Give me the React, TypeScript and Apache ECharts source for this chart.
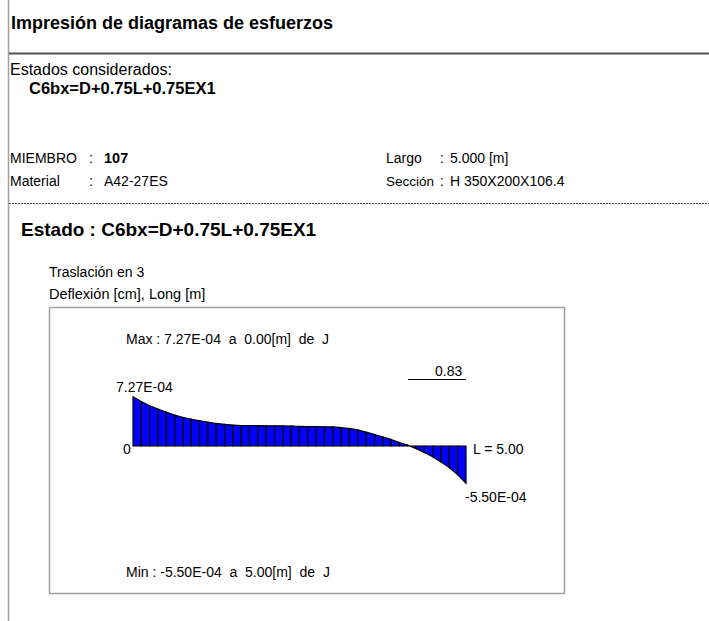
import React, { useEffect, useRef } from "react";
import * as echarts from "echarts";

// Stations along the member [m] (40 segments of 0.125 m)
const stations: number[] = [
  0, 0.125, 0.25, 0.375, 0.5, 0.625, 0.75, 0.875, 1.0, 1.125,
  1.25, 1.375, 1.5, 1.625, 1.75, 1.875, 2.0, 2.125, 2.25, 2.375,
  2.5, 2.625, 2.75, 2.875, 3.0, 3.125, 3.25, 3.375, 3.5, 3.625,
  3.75, 3.875, 4.0, 4.125, 4.25, 4.375, 4.5, 4.625, 4.75, 4.875, 5.0,
];

// Deflection [cm] at each station
const deflection: number[] = [
  7.27e-4, 6.55e-4, 5.95e-4, 5.45e-4, 5.0e-4, 4.55e-4, 4.2e-4, 3.95e-4, 3.72e-4, 3.5e-4,
  3.32e-4, 3.2e-4, 3.08e-4, 3.02e-4, 3.0e-4, 2.99e-4, 2.98e-4, 2.97e-4, 2.96e-4, 2.95e-4,
  2.88e-4, 2.86e-4, 2.85e-4, 2.84e-4, 2.82e-4, 2.72e-4, 2.58e-4, 2.38e-4, 2.05e-4, 1.7e-4,
  1.35e-4, 0.95e-4, 0.52e-4, 0.12e-4, -0.37e-4, -0.95e-4, -1.6e-4, -2.35e-4, -3.2e-4, -4.25e-4,
  -5.5e-4,
];

const title = "Impresión de diagramas de esfuerzos";
const combo = "C6bx=D+0.75L+0.75EX1";
const maxLabel = "7.27E-04";
const minLabel = "-5.50E-04";
const zeroLabel = "0";
const lengthLabel = "L = 5.00";
const crossLabel = "0.83";
const maxText = "Max : 7.27E-04  a  0.00[m]  de  J";
const minText = "Min : -5.50E-04  a  5.00[m]  de  J";

const FONT = "'Liberation Sans', Arial, sans-serif";

function txt(x: number, y: number, text: string, size: number, bold = false, color = "#000") {
  return {
    type: "text",
    x,
    y,
    style: {
      text,
      fill: color,
      font: `${bold ? "bold " : ""}${size}px ${FONT}`,
      textAlign: "left",
      textVerticalAlign: "middle",
    },
    silent: true,
  };
}

export default function App() {
  const ref = useRef<HTMLDivElement>(null);

  useEffect(() => {
    if (!ref.current) return;
    const chart = echarts.init(ref.current, undefined, { renderer: "svg" });

    const segments = stations.slice(0, -1).map((s, i) => [
      s,
      deflection[i],
      stations[i + 1],
      deflection[i + 1],
    ]);

    const graphic: any[] = [
      // page left border
      { type: "line", shape: { x1: 8.5, y1: 0, x2: 8.5, y2: 621 }, style: { stroke: "#a0a0a0", lineWidth: 1.5 }, silent: true },
      txt(11, 23, title, 18, true),
      { type: "line", shape: { x1: 9, y1: 53.5, x2: 709, y2: 53.5 }, style: { stroke: "#505050", lineWidth: 2 }, silent: true },
      txt(10, 69, "Estados considerados:", 16),
      txt(29, 88, combo, 16.5, true),
      txt(10, 158, "MIEMBRO", 14),
      txt(89, 158, ":", 14),
      txt(104, 158, "107", 14.5, true),
      txt(386, 158, "Largo", 14),
      txt(440, 158, ":", 14),
      txt(450, 158, "5.000 [m]", 14),
      txt(10, 181, "Material", 14),
      txt(89, 181, ":", 14),
      txt(104, 181, "A42-27ES", 14),
      txt(386, 181, "Sección", 13.5),
      txt(440, 181, ":", 14),
      txt(450, 181, "H 350X200X106.4", 14),
      { type: "line", shape: { x1: 9, y1: 203.5, x2: 709, y2: 203.5 }, style: { stroke: "#404040", lineWidth: 1, lineDash: [2, 1] }, silent: true },
      txt(21, 229, "Estado : " + combo, 19, true),
      txt(49, 272, "Traslación en 3", 14),
      txt(49, 294, "Deflexión [cm], Long [m]", 14.5),
      // diagram frame
      { type: "rect", shape: { x: 49.5, y: 307.5, width: 515, height: 286 }, style: { fill: "none", stroke: "#a0a0a0", lineWidth: 1.5 }, silent: true },
      txt(126, 339, maxText, 14),
      txt(435, 371, crossLabel, 14),
      { type: "line", shape: { x1: 408, y1: 379.5, x2: 466, y2: 379.5 }, style: { stroke: "#000", lineWidth: 1 }, silent: true },
      txt(116, 387, maxLabel, 14),
      txt(123, 449, zeroLabel, 14),
      txt(473, 449, lengthLabel, 14),
      txt(465, 497, minLabel, 14),
      txt(126, 572, minText, 14),
    ];

    chart.setOption({
      animation: false,
      backgroundColor: "#ffffff",
      grid: { left: 133, right: 243, top: 378.2, height: 135.6, containLabel: false },
      xAxis: { type: "value", min: 0, max: 5, show: false },
      yAxis: { type: "value", min: -1e-3, max: 1e-3, show: false },
      graphic,
      series: [
        {
          type: "custom",
          data: segments,
          encode: { x: [0, 2], y: [1, 3] },
          silent: true,
          renderItem: (_params: any, api: any) => {
            const x0 = api.value(0);
            const y0 = api.value(1);
            const x1 = api.value(2);
            const y1 = api.value(3);
            const pts = [
              api.coord([x0, 0]),
              api.coord([x0, y0]),
              api.coord([x1, y1]),
              api.coord([x1, 0]),
            ];
            return {
              type: "polygon",
              shape: { points: pts },
              style: { fill: "#0000ff", stroke: "#000000", lineWidth: 1.2 },
            };
          },
        },
      ],
    });

    return () => chart.dispose();
  }, []);

  return (
    <div
      ref={ref}
      style={{ position: "fixed", left: 0, top: 0, width: 709, height: 621, background: "#fff" }}
    />
  );
}
